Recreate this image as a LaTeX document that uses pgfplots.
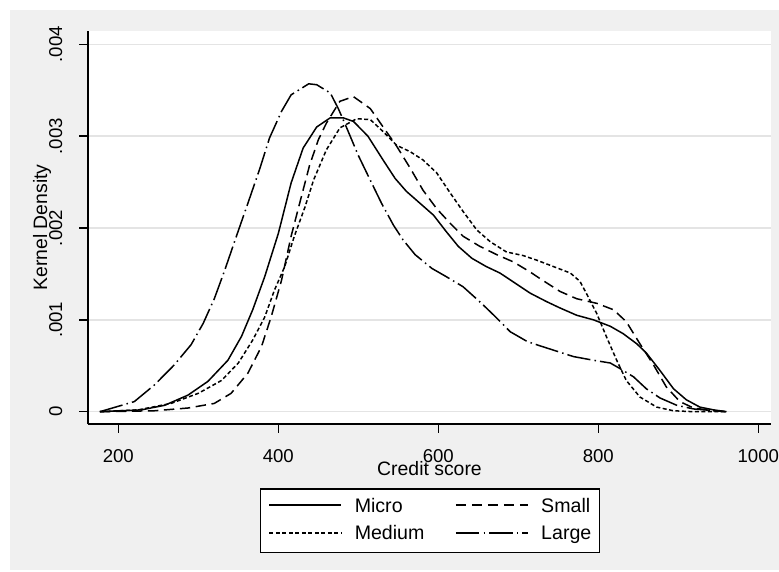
\documentclass[border=0pt]{standalone}
\usepackage{fontspec}
\setmainfont{Liberation Sans}
\usepackage{pgfplots}
\pgfplotsset{compat=1.18}
\definecolor{bggray}{RGB}{240,240,240}
\definecolor{gridgray}{RGB}{228,228,228}

\begin{document}
\begin{tikzpicture}
% outer graph region (1px = 0.5bp)
\fill[white] (0,0) rectangle (389.5bp,286bp);
\fill[bggray] (5bp,1bp) rectangle (389.5bp,281bp);
\begin{axis}[
    at={(44bp,74bp)}, anchor=south west,
    scale only axis, width=341.5bp, height=196.5bp,
    xmin=162.1, xmax=1015.9, ymin=-0.000134, ymax=0.004145,
    axis background/.style={fill=white},
    axis x line*=bottom, axis y line*=left,
    axis line style={black, line width=0.75bp},
    xtick={200,400,600,800,1000},
    xticklabels={200,400,600,800,1000},
    ytick={0,0.001,0.002,0.003,0.004},
    yticklabels={0,.001,.002,.003,.004},
    scaled y ticks=false,
    tick align=outside, major tick length=4.5bp,
    tick style={black, line width=0.75bp},
    ymajorgrids, major grid style={gridgray, line width=0.75bp},
    tick label style={font=\fontsize{9.3bp}{11bp}\selectfont, inner sep=0pt},
    xticklabel style={anchor=base, yshift=-14.5bp},
    yticklabel style={xshift=-8.5bp, rotate=90, anchor=base},
    xlabel={Credit score},
    every axis x label/.style={at={(axis description cs:0.5,-0.1323)},
        anchor=base, inner sep=0pt, font=\fontsize{9.7bp}{11bp}\selectfont},
    legend columns=2,
    legend cell align=left,
    legend image code/.code={%
        \path[draw=none] (0bp,3.4bp) -- (42.7bp,3.4bp);
        \draw[#1] (0bp,3.4bp) -- (36bp,3.4bp);},
    legend style={
        at={(axis description cs:0.5007,-0.1636)}, anchor=north,
        draw=black, line width=0.65bp, fill=white,
        inner xsep=4.2bp, inner ysep=2.1bp,
        font=\fontsize{9.8bp}{11bp}\selectfont,
        nodes={anchor=base west, inner xsep=0pt, inner ysep=2.43bp,
               text height=7bp, text depth=2bp},
        /tikz/every even column/.append style={column sep=15.3bp},
    },
    every axis plot/.append style={black, line width=0.75bp},
]
\addplot[solid] coordinates {
(177,0) (229,0.00002) (258,0.00007) (287,0.00018) (312,0.00033) (337,0.00056)
(354,0.00082) (368,0.00111) (383,0.00147) (400,0.00194) (416,0.00249)
(431,0.00287) (448,0.0031) (465,0.0032) (481,0.0032) (494,0.00316)
(512,0.003) (531,0.00274) (546,0.00254) (560,0.0024) (577,0.00227)
(594,0.00214) (610,0.00196) (625,0.0018) (642,0.00167) (660,0.00158)
(677,0.00151) (696,0.0014) (715,0.00129) (735,0.0012) (752,0.00113)
(773,0.00105) (794,0.001) (815,0.00093) (831,0.00085) (848,0.00074)
(860,0.00064) (877,0.00045) (894,0.00025) (910,0.00013) (927,0.00005)
(944,0.00002) (960,0)
};
\addlegendentry{Micro}
\addplot[dash pattern=on 5.2bp off 2.8bp] coordinates {
(177,0) (245,0.00001) (287,0.00004) (320,0.00009) (341,0.0002) (362,0.00042)
(379,0.00071) (391,0.00103) (404,0.00143) (416,0.00191) (427,0.00228)
(439,0.00268) (450,0.00296) (460,0.00314) (477,0.00338) (494,0.00343)
(515,0.0033) (531,0.0031) (548,0.00289) (565,0.00265) (581,0.00241)
(598,0.00221) (615,0.00205) (631,0.00191) (652,0.0018) (673,0.00171)
(694,0.00163) (715,0.00152) (727,0.00145) (752,0.00131) (773,0.00123)
(798,0.00118) (819,0.00111) (835,0.00098) (852,0.00074) (869,0.00051)
(885,0.00027) (902,0.00011) (919,0.00004) (944,0.00001) (960,0)
};
\addlegendentry{Small\hspace{3.2bp}}
\addplot[dash pattern=on 2bp off 1.25bp] coordinates {
(177,0) (225,0.00002) (266,0.00009) (300,0.0002) (329,0.00034) (350,0.00053)
(368,0.00078) (383,0.00103) (395,0.00132) (408,0.00158) (420,0.00191)
(433,0.00222) (444,0.00252) (460,0.00285) (477,0.00309) (498,0.00319)
(515,0.00318) (531,0.00305) (548,0.0029) (565,0.00283) (581,0.00274)
(598,0.0026) (615,0.00238) (631,0.00218) (648,0.00198) (665,0.00185)
(685,0.00174) (706,0.0017) (723,0.00165) (744,0.00158) (765,0.00151)
(777,0.00142) (785,0.00129) (798,0.00107) (810,0.00082) (823,0.00056)
(835,0.00034) (852,0.00016) (873,0.00005) (894,0.00001) (919,0) (960,0)
};
\addlegendentry{Medium}
\addplot[dash pattern=on 11.75bp off 2.1bp on 0.75bp off 2.05bp] coordinates {
(177,0) (220,0.00011) (245,0.00029) (270,0.00051) (291,0.00073) (306,0.00096)
(320,0.00123) (333,0.00154) (348,0.00192) (362,0.00227) (377,0.00265)
(389,0.00298) (404,0.00327) (416,0.00345) (438,0.00357) (448,0.00356)
(465,0.00347) (475,0.0033) (485,0.0031) (500,0.00279) (515,0.00252)
(529,0.00227) (544,0.00203) (556,0.00187) (571,0.00171) (592,0.00156)
(610,0.00147) (631,0.00136) (654,0.00118) (673,0.00102) (690,0.00087)
(710,0.00077) (719,0.00074) (744,0.00067) (769,0.0006) (794,0.00056)
(815,0.00053) (827,0.00047) (844,0.00038) (860,0.00025) (877,0.00015)
(898,0.00007) (919,0.00003) (960,0)
};
\addlegendentry{Large\hspace{3.2bp}}
\end{axis}
% y axis title, rotated, left of the tick labels
\node[rotate=90, anchor=center, inner sep=0pt,
      font=\fontsize{9.7bp}{11bp}\selectfont] at (21bp,172.25bp) {Kernel Density};
\pgfresetboundingbox
\useasboundingbox (0,0) rectangle (389.5bp,286bp);
\end{tikzpicture}
\end{document}
